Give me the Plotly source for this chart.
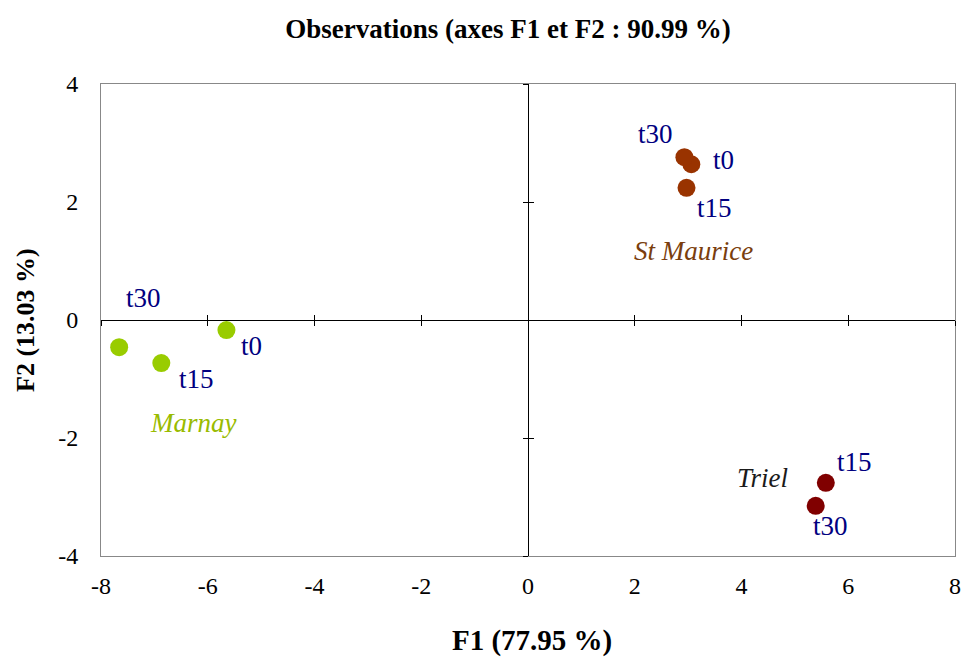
import plotly.graph_objects as go

# observation scores on F1 / F2
sites = ["Marnay", "St Maurice", "Triel"]
colors = ["#99CC00", "#993300", "#800000"]
site_label_colors = ["#99BB00", "#7A3E0E", "#1A1A1A"]

obs_names = [["t0", "t15", "t30"], ["t0", "t30", "t15"], ["t15", "t30"]]
f1 = [[-5.65, -6.87, -7.66], [3.06, 2.93, 2.97], [5.58, 5.39]]
f2 = [[-0.17, -0.73, -0.46], [2.64, 2.76, 2.24], [-2.76, -3.15]]

# where the site names sit
site_x = [-6.27, 3.10, 4.39]
site_y = [-1.75, 1.17, -2.68]

x_ticks = [-8, -6, -4, -2, 0, 2, 4, 6, 8]
x_tick_text = ["-8", "-6", "-4", "-2", "0", "2", "4", "6", "8"]
y_ticks = [-4, -2, 0, 2, 4]
y_tick_text = ["-4", "-2", "0", "2", "4"]

# pixel offsets of each observation label from its point
offsets = [[(25, 16), (35, 16), (24, -49)],
           [(32, -4), (-29, -23), (28, 20)],
           [(29, -21), (15, 20)]]

FONT = "Liberation Serif"

fig = go.Figure()

# axes through the origin (invisible traces bring them to life)
fig.add_trace(go.Scatter(x=[0], y=[0], xaxis="x2", yaxis="y2", mode="markers",
                         marker=dict(opacity=0), hoverinfo="skip"))
fig.add_trace(go.Scatter(x=[0], y=[0], xaxis="x3", yaxis="y3", mode="markers",
                         marker=dict(opacity=0), hoverinfo="skip"))

for i, s in enumerate(sites):
    fig.add_trace(go.Scatter(x=f1[i], y=f2[i], mode="markers", name=s,
                             marker=dict(size=18, color=colors[i])))
    for j, n in enumerate(obs_names[i]):
        fig.add_annotation(x=f1[i][j], y=f2[i][j], text=n, showarrow=True,
                           arrowcolor="rgba(0,0,0,0)", ax=offsets[i][j][0],
                           ay=offsets[i][j][1],
                           font=dict(family=FONT, size=27, color="#000080"))
    fig.add_annotation(x=site_x[i], y=site_y[i], text="<i>" + s + "</i>",
                       showarrow=False,
                       font=dict(family=FONT, size=27, color=site_label_colors[i]))

# axis titles
fig.add_annotation(text="<b>F1 (77.95 %)</b>", xref="paper", yref="paper",
                   x=0.505, y=-0.178, showarrow=False, yanchor="middle",
                   font=dict(family=FONT, size=29, color="black"))
fig.add_annotation(text="<b>F2 (13.03 %)</b>", xref="paper", yref="paper",
                   x=-0.089, y=0.5, showarrow=False, textangle=-90, xanchor="center",
                   font=dict(family=FONT, size=26, color="black"))

common = dict(showgrid=False, zeroline=False, automargin=False)
fig.update_layout(
    width=964, height=657,
    margin=dict(l=101, r=9, t=84, b=101, autoexpand=False),
    paper_bgcolor="white", plot_bgcolor="white",
    showlegend=False,
    font=dict(family=FONT, size=24, color="black"),
    title=dict(text="<b>Observations (axes F1 et F2 : 90.99 %)</b>",
               x=0.527, xanchor="center", y=0.956, yanchor="middle",
               automargin=False,
               font=dict(family=FONT, size=27, color="black")),
    xaxis=dict(range=[-8, 8], tickmode="array", tickvals=x_ticks, ticktext=x_tick_text,
               showline=True, mirror=True, linecolor="#888888", linewidth=1,
               ticks="outside", ticklen=8, tickcolor="rgba(0,0,0,0)",
               tickfont=dict(size=24), **common),
    yaxis=dict(range=[-4, 4], tickmode="array", tickvals=y_ticks, ticktext=y_tick_text,
               showline=True, mirror=True, linecolor="#888888", linewidth=1,
               ticks="outside", ticklen=17, tickcolor="rgba(0,0,0,0)",
               tickfont=dict(size=24), **common),
    xaxis2=dict(overlaying="x", matches="x", anchor="free", position=0.5,
                range=[-8, 8], dtick=2, showticklabels=False,
                showline=True, linecolor="black", linewidth=1,
                ticks="outside", ticklen=5, tickcolor="black", **common),
    xaxis3=dict(overlaying="x", matches="x", anchor="free", position=0.5,
                range=[-8, 8], dtick=2, showticklabels=False, showline=False,
                ticks="inside", ticklen=5, tickcolor="black", **common),
    yaxis2=dict(overlaying="y", matches="y", anchor="free", position=0.5,
                range=[-4, 4], dtick=2, showticklabels=False,
                showline=True, linecolor="black", linewidth=1,
                ticks="outside", ticklen=5, tickcolor="black", **common),
    yaxis3=dict(overlaying="y", matches="y", anchor="free", position=0.5,
                range=[-4, 4], dtick=2, showticklabels=False, showline=False,
                ticks="inside", ticklen=5, tickcolor="black", **common),
)

# drop the browser's default body margin so the figure fills the window
fig.write_html("out.html", config={"displayModeBar": False},
               post_script="document.body.style.margin='0';"
                           "document.body.style.overflow='hidden';")
